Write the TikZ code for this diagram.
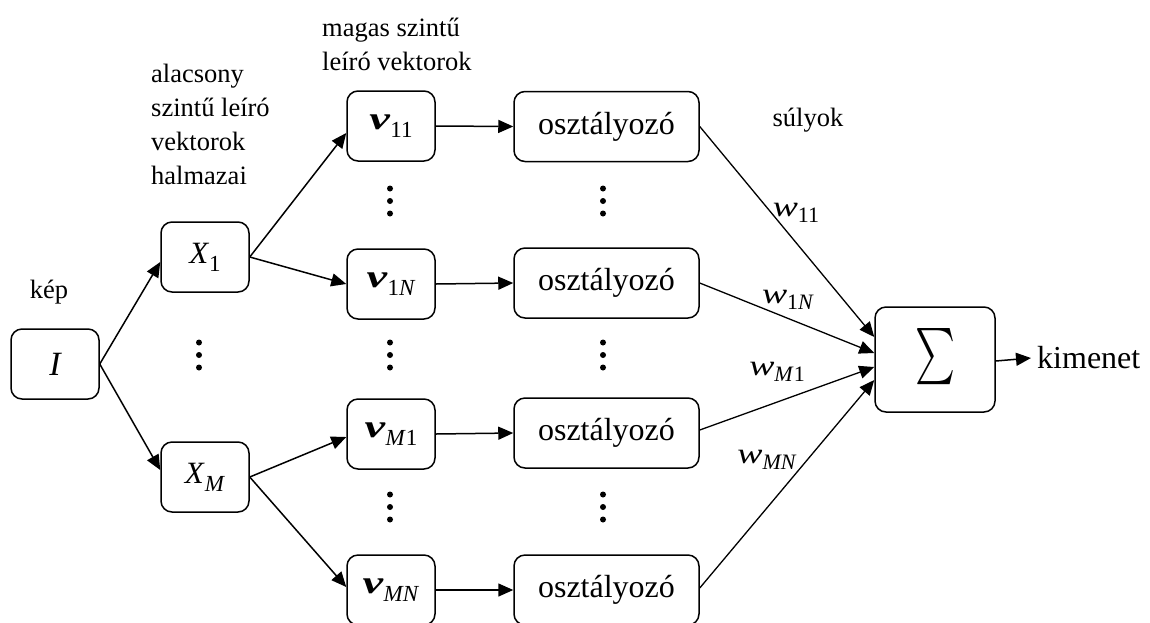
\documentclass[tikz,border=0pt]{standalone}
\usepackage{fontspec}
\usepackage{graphicx}
\setmainfont{Liberation Serif}
\newfontfamily\tnr{Liberation Serif}
\usetikzlibrary{arrows.meta,calc}
\newcommand{\vsub}[1]{\raisebox{-8pt}{\fontsize{23}{26}\selectfont #1}}
\newcommand{\wsub}[1]{\raisebox{-6pt}{\fontsize{22}{26}\selectfont #1}}
\newcommand{\vv}{\scalebox{1.45}[1]{\textbf{\textit{v}}}}
\newcommand{\ww}{\scalebox{1.3}[1]{\textit{w}}}
\tikzset{
  box/.style={draw, line width=1.5pt, rounded corners=11pt, minimum width=88pt,
    minimum height=70pt, inner sep=0pt, font=\tnr\fontsize{32}{36}\selectfont},
  cbox/.style={box, minimum width=185pt},
  arr/.style={line width=1.5pt, -{Triangle[length=15pt,width=13pt]}},
  wline/.style={line width=1.3pt, -{Triangle[length=15pt,width=13pt]}},
  lbl/.style={font=\tnr\fontsize{26.5}{34}\selectfont, align=left, inner sep=0pt},
  wlbl/.style={font=\tnr\fontsize{29}{32}\selectfont, inner sep=0pt},
}
\begin{document}
\begin{tikzpicture}[x=1pt,y=-1pt]
\useasboundingbox (0,0) rectangle (1150,622);
% boxes
\node[box] (I) at (55,364) {\fontsize{34}{36}\selectfont\itshape I};
\node[box] (X1) at (205,257) {\fontsize{31}{34}\selectfont\textit{X}\vsub{1}};
\node[box] (XM) at (205,477) {\fontsize{31}{34}\selectfont\textit{X}\vsub{\textit{M}}};
\node[box] (v11) at (391,126) {\vv\vsub{11}};
\node[box] (v1N) at (391,284) {\vv\vsub{1\textit{N}}};
\node[box] (vM1) at (391,434) {\vv\vsub{\textit{M}1}};
\node[box] (vMN) at (391,590) {\vv\vsub{\textit{MN}}};
\node[cbox] (c1) at (606.5,126.5) {osztályozó};
\node[cbox] (c2) at (606.5,283) {osztályozó};
\node[cbox] (c3) at (606.5,433) {osztályozó};
\node[cbox] (c4) at (606.5,590) {osztályozó};
\node[box, minimum width=120pt, minimum height=105pt] (S) at (935,359.5)
  {\resizebox{40pt}{63pt}{$\sum$}};
\coordinate (out) at (1031,358);
\node[anchor=west, inner sep=0pt, font=\tnr\fontsize{32}{36}\selectfont] (kim) at (1037,358) {kimenet};
% connectors
\draw[arr] (I.east) -- ($(X1.west)+(0,5)$);
\draw[arr] (I.east) -- ($(XM.west)+(0,-7)$);
\draw[arr] (X1.east) -- ($(v11.west)+(0,7)$);
\draw[arr] (X1.east) -- (v1N.west);
\draw[arr] (XM.east) -- ($(vM1.west)+(0,3)$);
\draw[arr] (XM.east) -- ($(vMN.west)+(0,-3)$);
\draw[arr] (v11.east) -- (c1.west);
\draw[arr] (v1N.east) -- (c2.west);
\draw[arr] (vM1.east) -- (c3.west);
\draw[arr] (vMN.east) -- (c4.west);
\draw[wline] (c1.east) -- ($(S.west)+(0,-22.5)$);
\draw[wline] (c2.east) -- ($(S.west)+(0,-6.5)$);
\draw[wline] ($(c3.east)+(0,-3)$) -- ($(S.west)+(0,7.5)$);
\draw[wline] ($(c4.east)+(0,-2)$) -- ($(S.west)+(0,20.5)$);
\draw[arr] ($(S.east)+(0,1.5)$) -- (out);
% dots
\foreach \x/\y in {390/201, 603/201, 390/355, 603/355, 390/507, 603/507, 199/355}{
  \foreach \d in {-12.5,0,12.5}{
    \fill (\x,\y+\d) circle (3pt);
  }
}
% labels
\node[lbl] (kep) at (49,292) {kép};
\node[lbl, anchor=west] (alac) at (151,124.5) {alacsony\\szintű leíró\\vektorok\\halmazai};
\node[lbl, anchor=west] (magas) at (322,44.5) {magas szintű\\leíró vektorok};
\node[lbl] (suly) at (808,120) {súlyok};
\node[wlbl] (w11) at (796,213) {\ww\wsub{11}};
\node[wlbl] (w1N) at (788,300) {\ww\wsub{1\textit{N}}};
\node[wlbl] (wM1) at (777,372) {\ww\wsub{\textit{M}1}};
\node[wlbl] (wMN) at (767,460) {\ww\wsub{\textit{MN}}};
\end{tikzpicture}
\end{document}
